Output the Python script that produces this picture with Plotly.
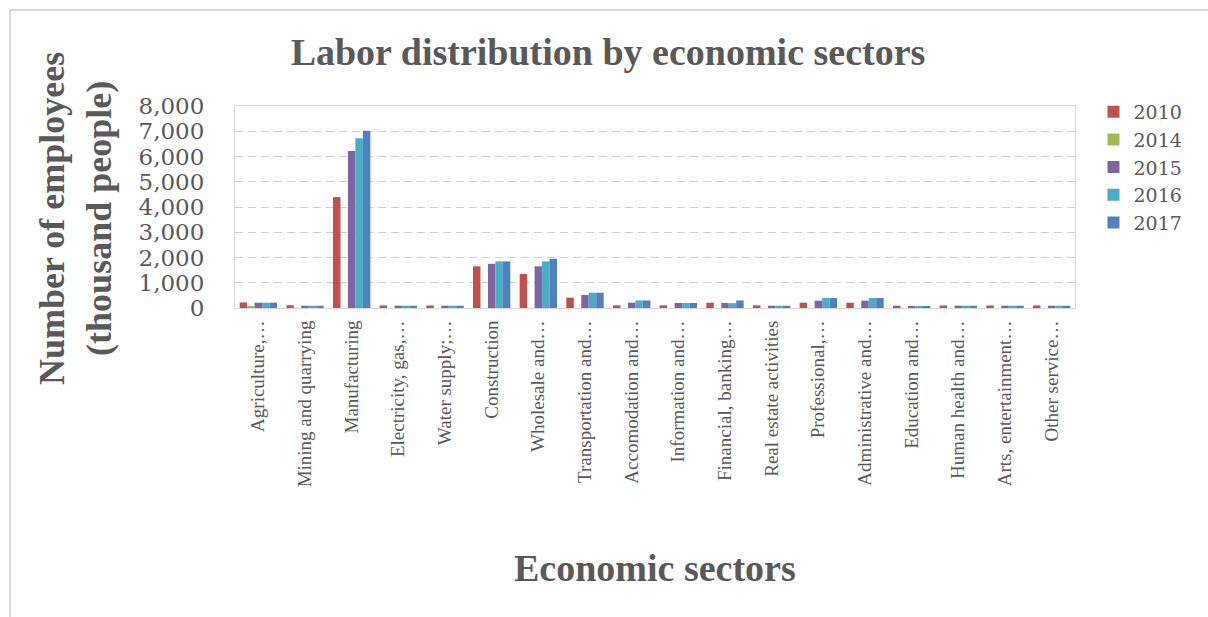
import plotly.graph_objects as go

categories = [
    "Agriculture,…", "Mining and quarrying", "Manufacturing", "Electricity, gas,…",
    "Water supply;…", "Construction", "Wholesale and…", "Transportation and…",
    "Accomodation and…", "Information and…", "Financial, banking…",
    "Real estate activities", "Professional,…", "Administrative and…",
    "Education and…", "Human health and…", "Arts, entertainment…", "Other service…",
]
years = ["2010", "2014", "2015", "2016", "2017"]
v2010 = [220, 110, 4390, 100, 100, 1650, 1345, 410, 105, 105, 210, 105, 210, 210, 90, 100, 100, 100]
v2014 = [80, 0, 0, 0, 0, 0, 0, 0, 0, 0, 0, 0, 0, 0, 0, 0, 0, 0]
v2015 = [210, 90, 6220, 90, 90, 1750, 1650, 515, 210, 200, 200, 90, 290, 290, 80, 90, 90, 90]
v2016 = [210, 90, 6720, 90, 90, 1845, 1845, 605, 300, 200, 190, 90, 395, 395, 80, 90, 90, 90]
v2017 = [210, 90, 7020, 90, 90, 1845, 1950, 605, 300, 200, 300, 90, 395, 395, 80, 90, 90, 90]
series = [v2010, v2014, v2015, v2016, v2017]
colors = ["#C0504D", "#9BBB59", "#8064A2", "#4BACC6", "#4F81BD"]

W, H = 1208, 617
L, R, T, B = 235, 133, 106, 309
pw, ph = W - L - R, H - T - B

def px_x(x):
    return (x - L) / pw

def px_y(y):
    return (H - B - y) / ph

serif = "Liberation Serif"
serif2 = "DejaVu Serif"
grey = "#595959"

fig = go.Figure()
for name, vals, c in zip(years, series, colors):
    fig.add_trace(go.Bar(name=name, x=categories, y=vals, marker_color=c,
                         marker_line_width=0))

fig.update_layout(
    width=W, height=H,
    margin=dict(l=L, r=R, t=T, b=B, autoexpand=False),
    paper_bgcolor="white", plot_bgcolor="white",
    barmode="group", bargap=0.2, bargroupgap=0,
    title=dict(text="<b>Labor distribution by economic sectors</b>",
               x=608 / W, xanchor="center", y=1 - 52 / H, yanchor="middle",
               font=dict(family=serif, size=38, color=grey)),
    legend=dict(x=1.022, y=1.065, xanchor="left", yanchor="top",
                font=dict(family=serif2, size=19, color=grey),
                bgcolor="rgba(0,0,0,0)", itemwidth=30),
    font=dict(family=serif, color=grey),
)
fig.update_yaxes(range=[0, 8000], dtick=1000, tickformat=",",
                 showgrid=True, gridcolor="#D0D0D0", griddash="8px,5px", gridwidth=1,
                 showline=True, linecolor="#D9D9D9", mirror=True, zeroline=False,
                 ticks="", ticklabelstandoff=25,
                 tickfont=dict(family=serif2, size=23, color=grey))
fig.update_xaxes(showline=True, linecolor="#D9D9D9", mirror=True,
                 tickangle=-90, ticks="", ticklabelstandoff=4,
                 tickfont=dict(family=serif, size=19, color=grey))

fig.add_annotation(text="<b>Number of employees<br>(thousand people)</b>",
                   xref="paper", yref="paper", x=px_x(75), y=px_y(219),
                   xanchor="center", yanchor="middle", textangle=-90, showarrow=False,
                   font=dict(family=serif, size=36, color=grey))
fig.add_annotation(text="<b>Economic sectors</b>",
                   xref="paper", yref="paper", x=px_x(655), y=px_y(568),
                   xanchor="center", yanchor="middle", showarrow=False,
                   font=dict(family=serif, size=38, color=grey))

# outer chart border (top and left)
fig.add_shape(type="line", xref="paper", yref="paper",
              x0=px_x(10), x1=px_x(W + 5), y0=px_y(10), y1=px_y(10),
              line=dict(color="#D9D9D9", width=2))
fig.add_shape(type="line", xref="paper", yref="paper",
              x0=px_x(10), x1=px_x(10), y0=px_y(10), y1=px_y(H + 5),
              line=dict(color="#D9D9D9", width=2))

fig.write_html("out.html", config={"displayModeBar": False},
               post_script="document.body.style.margin='0';document.body.style.overflow='hidden';")
